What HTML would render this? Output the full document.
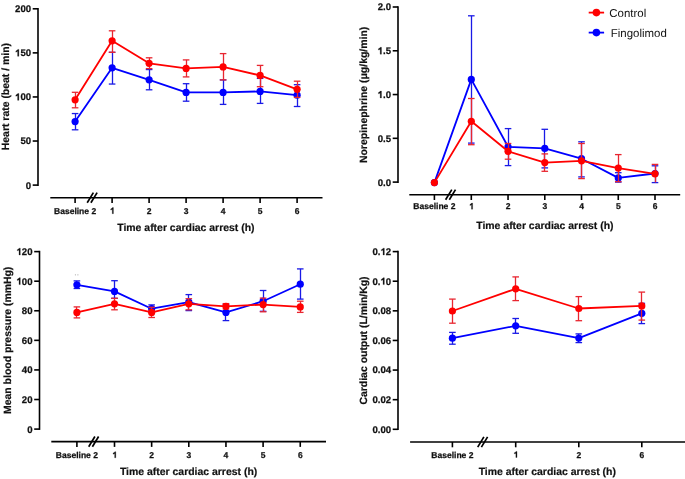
<!DOCTYPE html>
<html><head><meta charset="utf-8"><style>
html,body{margin:0;padding:0;background:#fff;}
svg{display:block;will-change:transform;}
text{font-family:"Liberation Sans", sans-serif;fill:#111;text-rendering:geometricPrecision;}
.tk{font-size:9.6px;font-weight:bold;stroke:#111;stroke-width:0.25px;}
.xt{font-size:8.5px;font-weight:bold;stroke:#111;stroke-width:0.25px;}
.ti{font-size:10.45px;font-weight:bold;stroke:#111;stroke-width:0.2px;}
.lg{font-size:11.45px;}
</style></head><body>
<svg width="685" height="479" viewBox="0 0 685 479">
<rect width="685" height="479" fill="#fff"/>
<line x1="38.0" y1="8.0" x2="38.0" y2="185.9" stroke="#000" stroke-width="1.6"/>
<line x1="32.7" y1="8.8" x2="38.0" y2="8.8" stroke="#000" stroke-width="1.6"/>
<text x="15.08" y="12.20" class="tk">200</text>
<line x1="32.7" y1="52.875" x2="38.0" y2="52.875" stroke="#000" stroke-width="1.6"/>
<path d="M 18.90 56.27 L 18.90 49.40 L 17.80 49.40 Q 17.34 50.37 15.85 50.95 L 15.85 52.15 Q 16.86 51.84 17.60 51.36 L 17.60 56.27 Z" fill="#111" stroke="#111" stroke-width="0.25"/>
<text x="20.42" y="56.27" class="tk">50</text>
<line x1="32.7" y1="96.95" x2="38.0" y2="96.95" stroke="#000" stroke-width="1.6"/>
<path d="M 18.90 100.35 L 18.90 93.48 L 17.80 93.48 Q 17.34 94.45 15.85 95.02 L 15.85 96.22 Q 16.86 95.91 17.60 95.43 L 17.60 100.35 Z" fill="#111" stroke="#111" stroke-width="0.25"/>
<text x="20.42" y="100.35" class="tk">00</text>
<line x1="32.7" y1="141.02500000000003" x2="38.0" y2="141.02500000000003" stroke="#000" stroke-width="1.6"/>
<text x="20.42" y="144.43" class="tk">50</text>
<line x1="32.7" y1="185.10000000000002" x2="38.0" y2="185.10000000000002" stroke="#000" stroke-width="1.6"/>
<text x="25.76" y="188.50" class="tk">0</text>
<line x1="50.3" y1="197.7" x2="322.5" y2="197.7" stroke="#000" stroke-width="1.6"/>
<line x1="75.1" y1="197.7" x2="75.1" y2="203.0" stroke="#000" stroke-width="1.6"/>
<text x="75.1" y="213.7" text-anchor="middle" class="xt">Baseline 2</text>
<line x1="112.1" y1="197.7" x2="112.1" y2="203.0" stroke="#000" stroke-width="1.6"/>
<path d="M 113.42 213.70 L 113.42 207.61 L 112.44 207.61 Q 112.03 208.47 110.72 208.98 L 110.72 210.04 Q 111.61 209.77 112.26 209.35 L 112.26 213.70 Z" fill="#111" stroke="#111" stroke-width="0.25"/>
<line x1="149.1" y1="197.7" x2="149.1" y2="203.0" stroke="#000" stroke-width="1.6"/>
<text x="149.1" y="213.7" text-anchor="middle" class="xt">2</text>
<line x1="186.1" y1="197.7" x2="186.1" y2="203.0" stroke="#000" stroke-width="1.6"/>
<text x="186.1" y="213.7" text-anchor="middle" class="xt">3</text>
<line x1="223.1" y1="197.7" x2="223.1" y2="203.0" stroke="#000" stroke-width="1.6"/>
<text x="223.1" y="213.7" text-anchor="middle" class="xt">4</text>
<line x1="260.1" y1="197.7" x2="260.1" y2="203.0" stroke="#000" stroke-width="1.6"/>
<text x="260.1" y="213.7" text-anchor="middle" class="xt">5</text>
<line x1="297.1" y1="197.7" x2="297.1" y2="203.0" stroke="#000" stroke-width="1.6"/>
<text x="297.1" y="213.7" text-anchor="middle" class="xt">6</text>
<line x1="87.2" y1="202.79999999999998" x2="93.39999999999999" y2="192.6" stroke="#000" stroke-width="1.7"/>
<line x1="90.9" y1="202.79999999999998" x2="97.1" y2="192.6" stroke="#000" stroke-width="1.7"/>
<text x="185.9" y="231.0" text-anchor="middle" class="ti">Time after cardiac arrest (h)</text>
<text transform="translate(9.4,96.6) rotate(-90)" text-anchor="middle" class="ti">Heart rate (beat / min)</text>
<line x1="75.5" y1="113.55" x2="75.5" y2="129.8" stroke="#1a1ae6" stroke-width="1.3"/>
<line x1="71.8" y1="113.55" x2="78.39999999999999" y2="113.55" stroke="#1a1ae6" stroke-width="1.3"/>
<line x1="71.8" y1="129.8" x2="78.39999999999999" y2="129.8" stroke="#1a1ae6" stroke-width="1.3"/>
<line x1="112.5" y1="52.3" x2="112.5" y2="84.05" stroke="#1a1ae6" stroke-width="1.3"/>
<line x1="108.8" y1="52.3" x2="115.39999999999999" y2="52.3" stroke="#1a1ae6" stroke-width="1.3"/>
<line x1="108.8" y1="84.05" x2="115.39999999999999" y2="84.05" stroke="#1a1ae6" stroke-width="1.3"/>
<line x1="149.5" y1="69.55" x2="149.5" y2="89.8" stroke="#1a1ae6" stroke-width="1.3"/>
<line x1="145.79999999999998" y1="69.55" x2="152.4" y2="69.55" stroke="#1a1ae6" stroke-width="1.3"/>
<line x1="145.79999999999998" y1="89.8" x2="152.4" y2="89.8" stroke="#1a1ae6" stroke-width="1.3"/>
<line x1="186.5" y1="83.7" x2="186.5" y2="101.2" stroke="#1a1ae6" stroke-width="1.3"/>
<line x1="182.79999999999998" y1="83.7" x2="189.4" y2="83.7" stroke="#1a1ae6" stroke-width="1.3"/>
<line x1="182.79999999999998" y1="101.2" x2="189.4" y2="101.2" stroke="#1a1ae6" stroke-width="1.3"/>
<line x1="223.5" y1="79.89999999999999" x2="223.5" y2="104.39999999999999" stroke="#1a1ae6" stroke-width="1.3"/>
<line x1="219.79999999999998" y1="79.89999999999999" x2="226.4" y2="79.89999999999999" stroke="#1a1ae6" stroke-width="1.3"/>
<line x1="219.79999999999998" y1="104.39999999999999" x2="226.4" y2="104.39999999999999" stroke="#1a1ae6" stroke-width="1.3"/>
<line x1="260.5" y1="78.39999999999999" x2="260.5" y2="103.39999999999999" stroke="#1a1ae6" stroke-width="1.3"/>
<line x1="256.8" y1="78.39999999999999" x2="263.40000000000003" y2="78.39999999999999" stroke="#1a1ae6" stroke-width="1.3"/>
<line x1="256.8" y1="103.39999999999999" x2="263.40000000000003" y2="103.39999999999999" stroke="#1a1ae6" stroke-width="1.3"/>
<line x1="297.5" y1="84.7" x2="297.5" y2="106.5" stroke="#1a1ae6" stroke-width="1.3"/>
<line x1="293.8" y1="84.7" x2="300.40000000000003" y2="84.7" stroke="#1a1ae6" stroke-width="1.3"/>
<line x1="293.8" y1="106.5" x2="300.40000000000003" y2="106.5" stroke="#1a1ae6" stroke-width="1.3"/>
<polyline points="75.1,121.55 112.1,67.8 149.1,79.8 186.1,92.39999999999999 223.1,92.39999999999999 260.1,91.39999999999999 297.1,95.2" fill="none" stroke="#0000ff" stroke-width="1.8" stroke-linejoin="round"/>
<circle cx="75.1" cy="121.55" r="3.6" fill="#0000ff"/>
<circle cx="112.1" cy="67.8" r="3.6" fill="#0000ff"/>
<circle cx="149.1" cy="79.8" r="3.6" fill="#0000ff"/>
<circle cx="186.1" cy="92.39999999999999" r="3.6" fill="#0000ff"/>
<circle cx="223.1" cy="92.39999999999999" r="3.6" fill="#0000ff"/>
<circle cx="260.1" cy="91.39999999999999" r="3.6" fill="#0000ff"/>
<circle cx="297.1" cy="95.2" r="3.6" fill="#0000ff"/>
<line x1="75.5" y1="92.3" x2="75.5" y2="107.8" stroke="#e82630" stroke-width="1.3"/>
<line x1="71.8" y1="92.3" x2="78.39999999999999" y2="92.3" stroke="#e82630" stroke-width="1.3"/>
<line x1="71.8" y1="107.8" x2="78.39999999999999" y2="107.8" stroke="#e82630" stroke-width="1.3"/>
<line x1="112.5" y1="30.8" x2="112.5" y2="52.3" stroke="#e82630" stroke-width="1.3"/>
<line x1="108.8" y1="30.8" x2="115.39999999999999" y2="30.8" stroke="#e82630" stroke-width="1.3"/>
<line x1="108.8" y1="52.3" x2="115.39999999999999" y2="52.3" stroke="#e82630" stroke-width="1.3"/>
<line x1="149.5" y1="57.8" x2="149.5" y2="68.6" stroke="#e82630" stroke-width="1.3"/>
<line x1="145.79999999999998" y1="57.8" x2="152.4" y2="57.8" stroke="#e82630" stroke-width="1.3"/>
<line x1="145.79999999999998" y1="68.6" x2="152.4" y2="68.6" stroke="#e82630" stroke-width="1.3"/>
<line x1="186.5" y1="59.9" x2="186.5" y2="76.89999999999999" stroke="#e82630" stroke-width="1.3"/>
<line x1="182.79999999999998" y1="59.9" x2="189.4" y2="59.9" stroke="#e82630" stroke-width="1.3"/>
<line x1="182.79999999999998" y1="76.89999999999999" x2="189.4" y2="76.89999999999999" stroke="#e82630" stroke-width="1.3"/>
<line x1="223.5" y1="53.599999999999994" x2="223.5" y2="79.89999999999999" stroke="#e82630" stroke-width="1.3"/>
<line x1="219.79999999999998" y1="53.599999999999994" x2="226.4" y2="53.599999999999994" stroke="#e82630" stroke-width="1.3"/>
<line x1="219.79999999999998" y1="79.89999999999999" x2="226.4" y2="79.89999999999999" stroke="#e82630" stroke-width="1.3"/>
<line x1="260.5" y1="65.39999999999999" x2="260.5" y2="86.7" stroke="#e82630" stroke-width="1.3"/>
<line x1="256.8" y1="65.39999999999999" x2="263.40000000000003" y2="65.39999999999999" stroke="#e82630" stroke-width="1.3"/>
<line x1="256.8" y1="86.7" x2="263.40000000000003" y2="86.7" stroke="#e82630" stroke-width="1.3"/>
<line x1="297.5" y1="81.2" x2="297.5" y2="97.39999999999999" stroke="#e82630" stroke-width="1.3"/>
<line x1="293.8" y1="81.2" x2="300.40000000000003" y2="81.2" stroke="#e82630" stroke-width="1.3"/>
<line x1="293.8" y1="97.39999999999999" x2="300.40000000000003" y2="97.39999999999999" stroke="#e82630" stroke-width="1.3"/>
<polyline points="75.1,99.8 112.1,40.8 149.1,63.3 186.1,68.39999999999999 223.1,66.89999999999999 260.1,75.39999999999999 297.1,89.3" fill="none" stroke="#ff0000" stroke-width="1.8" stroke-linejoin="round"/>
<circle cx="75.1" cy="99.8" r="3.6" fill="#ff0000"/>
<circle cx="112.1" cy="40.8" r="3.6" fill="#ff0000"/>
<circle cx="149.1" cy="63.3" r="3.6" fill="#ff0000"/>
<circle cx="186.1" cy="68.39999999999999" r="3.6" fill="#ff0000"/>
<circle cx="223.1" cy="66.89999999999999" r="3.6" fill="#ff0000"/>
<circle cx="260.1" cy="75.39999999999999" r="3.6" fill="#ff0000"/>
<circle cx="297.1" cy="89.3" r="3.6" fill="#ff0000"/>
<line x1="398.0" y1="6.2" x2="398.0" y2="182.9" stroke="#000" stroke-width="1.6"/>
<line x1="392.7" y1="7.0" x2="398.0" y2="7.0" stroke="#000" stroke-width="1.6"/>
<text x="377.65" y="10.40" class="tk">2.0</text>
<line x1="392.7" y1="50.775" x2="398.0" y2="50.775" stroke="#000" stroke-width="1.6"/>
<path d="M 381.47 54.17 L 381.47 47.30 L 380.37 47.30 Q 379.91 48.27 378.42 48.85 L 378.42 50.05 Q 379.43 49.74 380.17 49.26 L 380.17 54.17 Z" fill="#111" stroke="#111" stroke-width="0.25"/>
<text x="382.99" y="54.17" class="tk">.5</text>
<line x1="392.7" y1="94.55" x2="398.0" y2="94.55" stroke="#000" stroke-width="1.6"/>
<path d="M 381.47 97.95 L 381.47 91.08 L 380.37 91.08 Q 379.91 92.05 378.42 92.62 L 378.42 93.82 Q 379.43 93.51 380.17 93.03 L 380.17 97.95 Z" fill="#111" stroke="#111" stroke-width="0.25"/>
<text x="382.99" y="97.95" class="tk">.0</text>
<line x1="392.7" y1="138.325" x2="398.0" y2="138.325" stroke="#000" stroke-width="1.6"/>
<text x="377.65" y="141.72" class="tk">0.5</text>
<line x1="392.7" y1="182.1" x2="398.0" y2="182.1" stroke="#000" stroke-width="1.6"/>
<text x="377.65" y="185.50" class="tk">0.0</text>
<line x1="409.3" y1="194.7" x2="680.2" y2="194.7" stroke="#000" stroke-width="1.6"/>
<line x1="434.4" y1="194.7" x2="434.4" y2="200.0" stroke="#000" stroke-width="1.6"/>
<text x="434.4" y="209.2" text-anchor="middle" class="xt">Baseline 2</text>
<line x1="471.3" y1="194.7" x2="471.3" y2="200.0" stroke="#000" stroke-width="1.6"/>
<path d="M 472.62 209.20 L 472.62 203.11 L 471.64 203.11 Q 471.23 203.97 469.92 204.48 L 469.92 205.54 Q 470.81 205.27 471.46 204.85 L 471.46 209.20 Z" fill="#111" stroke="#111" stroke-width="0.25"/>
<line x1="508.04" y1="194.7" x2="508.04" y2="200.0" stroke="#000" stroke-width="1.6"/>
<text x="508.04" y="209.2" text-anchor="middle" class="xt">2</text>
<line x1="544.78" y1="194.7" x2="544.78" y2="200.0" stroke="#000" stroke-width="1.6"/>
<text x="544.78" y="209.2" text-anchor="middle" class="xt">3</text>
<line x1="581.52" y1="194.7" x2="581.52" y2="200.0" stroke="#000" stroke-width="1.6"/>
<text x="581.52" y="209.2" text-anchor="middle" class="xt">4</text>
<line x1="618.26" y1="194.7" x2="618.26" y2="200.0" stroke="#000" stroke-width="1.6"/>
<text x="618.26" y="209.2" text-anchor="middle" class="xt">5</text>
<line x1="655.0" y1="194.7" x2="655.0" y2="200.0" stroke="#000" stroke-width="1.6"/>
<text x="655.0" y="209.2" text-anchor="middle" class="xt">6</text>
<line x1="445.59999999999997" y1="199.79999999999998" x2="451.8" y2="189.6" stroke="#000" stroke-width="1.7"/>
<line x1="449.29999999999995" y1="199.79999999999998" x2="455.5" y2="189.6" stroke="#000" stroke-width="1.7"/>
<text x="544.9" y="228.6" text-anchor="middle" class="ti">Time after cardiac arrest (h)</text>
<text transform="translate(366.9,94.9) rotate(-90)" text-anchor="middle" class="ti">Norepinephrine (μg/kg/min)</text>
<line x1="471.5" y1="15.8" x2="471.5" y2="143.10000000000002" stroke="#1a1ae6" stroke-width="1.3"/>
<line x1="468.0" y1="15.8" x2="474.6" y2="15.8" stroke="#1a1ae6" stroke-width="1.3"/>
<line x1="468.0" y1="143.10000000000002" x2="474.6" y2="143.10000000000002" stroke="#1a1ae6" stroke-width="1.3"/>
<line x1="508.5" y1="128.60000000000002" x2="508.5" y2="165.60000000000002" stroke="#1a1ae6" stroke-width="1.3"/>
<line x1="504.74" y1="128.60000000000002" x2="511.34000000000003" y2="128.60000000000002" stroke="#1a1ae6" stroke-width="1.3"/>
<line x1="504.74" y1="165.60000000000002" x2="511.34000000000003" y2="165.60000000000002" stroke="#1a1ae6" stroke-width="1.3"/>
<line x1="544.5" y1="129.3" x2="544.5" y2="167.9" stroke="#1a1ae6" stroke-width="1.3"/>
<line x1="541.48" y1="129.3" x2="548.0799999999999" y2="129.3" stroke="#1a1ae6" stroke-width="1.3"/>
<line x1="541.48" y1="167.9" x2="548.0799999999999" y2="167.9" stroke="#1a1ae6" stroke-width="1.3"/>
<line x1="581.5" y1="141.8" x2="581.5" y2="176.9" stroke="#1a1ae6" stroke-width="1.3"/>
<line x1="578.22" y1="141.8" x2="584.8199999999999" y2="141.8" stroke="#1a1ae6" stroke-width="1.3"/>
<line x1="578.22" y1="176.9" x2="584.8199999999999" y2="176.9" stroke="#1a1ae6" stroke-width="1.3"/>
<line x1="618.5" y1="172.70000000000002" x2="618.5" y2="182.10000000000002" stroke="#1a1ae6" stroke-width="1.3"/>
<line x1="614.96" y1="172.70000000000002" x2="621.56" y2="172.70000000000002" stroke="#1a1ae6" stroke-width="1.3"/>
<line x1="614.96" y1="182.10000000000002" x2="621.56" y2="182.10000000000002" stroke="#1a1ae6" stroke-width="1.3"/>
<line x1="655.5" y1="165.8" x2="655.5" y2="182.60000000000002" stroke="#1a1ae6" stroke-width="1.3"/>
<line x1="651.7" y1="165.8" x2="658.3" y2="165.8" stroke="#1a1ae6" stroke-width="1.3"/>
<line x1="651.7" y1="182.60000000000002" x2="658.3" y2="182.60000000000002" stroke="#1a1ae6" stroke-width="1.3"/>
<polyline points="434.4,182.60000000000002 471.3,79.39999999999999 508.04,146.8 544.78,148.4 581.52,158.70000000000002 618.26,177.9 655.0,173.5" fill="none" stroke="#0000ff" stroke-width="1.8" stroke-linejoin="round"/>
<circle cx="434.4" cy="182.60000000000002" r="3.6" fill="#0000ff"/>
<circle cx="471.3" cy="79.39999999999999" r="3.6" fill="#0000ff"/>
<circle cx="508.04" cy="146.8" r="3.6" fill="#0000ff"/>
<circle cx="544.78" cy="148.4" r="3.6" fill="#0000ff"/>
<circle cx="581.52" cy="158.70000000000002" r="3.6" fill="#0000ff"/>
<circle cx="618.26" cy="177.9" r="3.6" fill="#0000ff"/>
<circle cx="655.0" cy="173.5" r="3.6" fill="#0000ff"/>
<line x1="471.5" y1="98.5" x2="471.5" y2="144.70000000000002" stroke="#e82630" stroke-width="1.3"/>
<line x1="468.0" y1="98.5" x2="474.6" y2="98.5" stroke="#e82630" stroke-width="1.3"/>
<line x1="468.0" y1="144.70000000000002" x2="474.6" y2="144.70000000000002" stroke="#e82630" stroke-width="1.3"/>
<line x1="508.5" y1="143.5" x2="508.5" y2="159.20000000000002" stroke="#e82630" stroke-width="1.3"/>
<line x1="504.74" y1="143.5" x2="511.34000000000003" y2="143.5" stroke="#e82630" stroke-width="1.3"/>
<line x1="504.74" y1="159.20000000000002" x2="511.34000000000003" y2="159.20000000000002" stroke="#e82630" stroke-width="1.3"/>
<line x1="544.5" y1="153.9" x2="544.5" y2="171.3" stroke="#e82630" stroke-width="1.3"/>
<line x1="541.48" y1="153.9" x2="548.0799999999999" y2="153.9" stroke="#e82630" stroke-width="1.3"/>
<line x1="541.48" y1="171.3" x2="548.0799999999999" y2="171.3" stroke="#e82630" stroke-width="1.3"/>
<line x1="581.5" y1="143.5" x2="581.5" y2="178.60000000000002" stroke="#e82630" stroke-width="1.3"/>
<line x1="578.22" y1="143.5" x2="584.8199999999999" y2="143.5" stroke="#e82630" stroke-width="1.3"/>
<line x1="578.22" y1="178.60000000000002" x2="584.8199999999999" y2="178.60000000000002" stroke="#e82630" stroke-width="1.3"/>
<line x1="618.5" y1="154.60000000000002" x2="618.5" y2="181.70000000000002" stroke="#e82630" stroke-width="1.3"/>
<line x1="614.96" y1="154.60000000000002" x2="621.56" y2="154.60000000000002" stroke="#e82630" stroke-width="1.3"/>
<line x1="614.96" y1="181.70000000000002" x2="621.56" y2="181.70000000000002" stroke="#e82630" stroke-width="1.3"/>
<line x1="655.5" y1="164.4" x2="655.5" y2="182.4" stroke="#e82630" stroke-width="1.3"/>
<line x1="651.7" y1="164.4" x2="658.3" y2="164.4" stroke="#e82630" stroke-width="1.3"/>
<polyline points="434.4,182.60000000000002 471.3,121.3 508.04,151.3 544.78,162.60000000000002 581.52,160.8 618.26,168.10000000000002 655.0,173.8" fill="none" stroke="#ff0000" stroke-width="1.8" stroke-linejoin="round"/>
<circle cx="434.4" cy="182.60000000000002" r="3.6" fill="#ff0000"/>
<circle cx="471.3" cy="121.3" r="3.6" fill="#ff0000"/>
<circle cx="508.04" cy="151.3" r="3.6" fill="#ff0000"/>
<circle cx="544.78" cy="162.60000000000002" r="3.6" fill="#ff0000"/>
<circle cx="581.52" cy="160.8" r="3.6" fill="#ff0000"/>
<circle cx="618.26" cy="168.10000000000002" r="3.6" fill="#ff0000"/>
<circle cx="655.0" cy="173.8" r="3.6" fill="#ff0000"/>
<line x1="588.7" y1="12.6" x2="604.1" y2="12.6" stroke="#ff0000" stroke-width="1.8"/>
<circle cx="596.4" cy="12.6" r="3.8" fill="#ff0000"/>
<text x="609.3" y="16.8" class="lg">Control</text>
<line x1="588.7" y1="32.6" x2="604.1" y2="32.6" stroke="#0000ff" stroke-width="1.8"/>
<circle cx="596.4" cy="32.6" r="3.8" fill="#0000ff"/>
<text x="610.8" y="36.8" class="lg">Fingolimod</text>
<line x1="39.5" y1="250.79999999999998" x2="39.5" y2="429.90000000000003" stroke="#000" stroke-width="1.6"/>
<line x1="34.2" y1="251.6" x2="39.5" y2="251.6" stroke="#000" stroke-width="1.6"/>
<path d="M 20.30 255.00 L 20.30 248.13 L 19.20 248.13 Q 18.74 249.10 17.25 249.67 L 17.25 250.87 Q 18.26 250.56 19.00 250.08 L 19.00 255.00 Z" fill="#111" stroke="#111" stroke-width="0.25"/>
<text x="21.82" y="255.00" class="tk">20</text>
<line x1="34.2" y1="281.183" x2="39.5" y2="281.183" stroke="#000" stroke-width="1.6"/>
<path d="M 20.30 284.58 L 20.30 277.71 L 19.20 277.71 Q 18.74 278.68 17.25 279.25 L 17.25 280.45 Q 18.26 280.15 19.00 279.67 L 19.00 284.58 Z" fill="#111" stroke="#111" stroke-width="0.25"/>
<text x="21.82" y="284.58" class="tk">00</text>
<line x1="34.2" y1="310.76599999999996" x2="39.5" y2="310.76599999999996" stroke="#000" stroke-width="1.6"/>
<text x="21.82" y="314.17" class="tk">80</text>
<line x1="34.2" y1="340.349" x2="39.5" y2="340.349" stroke="#000" stroke-width="1.6"/>
<text x="21.82" y="343.75" class="tk">60</text>
<line x1="34.2" y1="369.932" x2="39.5" y2="369.932" stroke="#000" stroke-width="1.6"/>
<text x="21.82" y="373.33" class="tk">40</text>
<line x1="34.2" y1="399.515" x2="39.5" y2="399.515" stroke="#000" stroke-width="1.6"/>
<text x="21.82" y="402.91" class="tk">20</text>
<line x1="34.2" y1="429.09799999999996" x2="39.5" y2="429.09799999999996" stroke="#000" stroke-width="1.6"/>
<text x="27.16" y="432.50" class="tk">0</text>
<line x1="51.3" y1="441.6" x2="326.0" y2="441.6" stroke="#000" stroke-width="1.6"/>
<line x1="76.9" y1="441.6" x2="76.9" y2="446.90000000000003" stroke="#000" stroke-width="1.6"/>
<text x="76.9" y="457.8" text-anchor="middle" class="xt">Baseline 2</text>
<line x1="114.5" y1="441.6" x2="114.5" y2="446.90000000000003" stroke="#000" stroke-width="1.6"/>
<path d="M 115.82 457.80 L 115.82 451.71 L 114.84 451.71 Q 114.43 452.57 113.12 453.08 L 113.12 454.15 Q 114.01 453.87 114.66 453.45 L 114.66 457.80 Z" fill="#111" stroke="#111" stroke-width="0.25"/>
<line x1="151.65" y1="441.6" x2="151.65" y2="446.90000000000003" stroke="#000" stroke-width="1.6"/>
<text x="151.65" y="457.8" text-anchor="middle" class="xt">2</text>
<line x1="188.8" y1="441.6" x2="188.8" y2="446.90000000000003" stroke="#000" stroke-width="1.6"/>
<text x="188.8" y="457.8" text-anchor="middle" class="xt">3</text>
<line x1="225.95" y1="441.6" x2="225.95" y2="446.90000000000003" stroke="#000" stroke-width="1.6"/>
<text x="225.95" y="457.8" text-anchor="middle" class="xt">4</text>
<line x1="263.1" y1="441.6" x2="263.1" y2="446.90000000000003" stroke="#000" stroke-width="1.6"/>
<text x="263.1" y="457.8" text-anchor="middle" class="xt">5</text>
<line x1="300.25" y1="441.6" x2="300.25" y2="446.90000000000003" stroke="#000" stroke-width="1.6"/>
<text x="300.25" y="457.8" text-anchor="middle" class="xt">6</text>
<line x1="88.7" y1="446.70000000000005" x2="94.89999999999999" y2="436.5" stroke="#000" stroke-width="1.7"/>
<line x1="92.4" y1="446.70000000000005" x2="98.6" y2="436.5" stroke="#000" stroke-width="1.7"/>
<text x="188.6" y="474.6" text-anchor="middle" class="ti">Time after cardiac arrest (h)</text>
<text transform="translate(10.9,340.3) rotate(-90)" text-anchor="middle" class="ti">Mean blood pressure (mmHg)</text>
<line x1="76.5" y1="280.90000000000003" x2="76.5" y2="288.5" stroke="#1a1ae6" stroke-width="1.3"/>
<line x1="73.60000000000001" y1="280.90000000000003" x2="80.2" y2="280.90000000000003" stroke="#1a1ae6" stroke-width="1.3"/>
<line x1="73.60000000000001" y1="288.5" x2="80.2" y2="288.5" stroke="#1a1ae6" stroke-width="1.3"/>
<line x1="114.5" y1="280.7" x2="114.5" y2="298.3" stroke="#1a1ae6" stroke-width="1.3"/>
<line x1="111.2" y1="280.7" x2="117.8" y2="280.7" stroke="#1a1ae6" stroke-width="1.3"/>
<line x1="111.2" y1="298.3" x2="117.8" y2="298.3" stroke="#1a1ae6" stroke-width="1.3"/>
<line x1="151.5" y1="304.90000000000003" x2="151.5" y2="312.3" stroke="#1a1ae6" stroke-width="1.3"/>
<line x1="148.35" y1="304.90000000000003" x2="154.95000000000002" y2="304.90000000000003" stroke="#1a1ae6" stroke-width="1.3"/>
<line x1="148.35" y1="312.3" x2="154.95000000000002" y2="312.3" stroke="#1a1ae6" stroke-width="1.3"/>
<line x1="188.5" y1="294.6" x2="188.5" y2="310.6" stroke="#1a1ae6" stroke-width="1.3"/>
<line x1="185.5" y1="294.6" x2="192.10000000000002" y2="294.6" stroke="#1a1ae6" stroke-width="1.3"/>
<line x1="185.5" y1="310.6" x2="192.10000000000002" y2="310.6" stroke="#1a1ae6" stroke-width="1.3"/>
<line x1="225.5" y1="304.3" x2="225.5" y2="320.6" stroke="#1a1ae6" stroke-width="1.3"/>
<line x1="222.64999999999998" y1="304.3" x2="229.25" y2="304.3" stroke="#1a1ae6" stroke-width="1.3"/>
<line x1="222.64999999999998" y1="320.6" x2="229.25" y2="320.6" stroke="#1a1ae6" stroke-width="1.3"/>
<line x1="263.5" y1="290.5" x2="263.5" y2="311.3" stroke="#1a1ae6" stroke-width="1.3"/>
<line x1="259.8" y1="290.5" x2="266.40000000000003" y2="290.5" stroke="#1a1ae6" stroke-width="1.3"/>
<line x1="259.8" y1="311.3" x2="266.40000000000003" y2="311.3" stroke="#1a1ae6" stroke-width="1.3"/>
<line x1="300.5" y1="268.90000000000003" x2="300.5" y2="299.1" stroke="#1a1ae6" stroke-width="1.3"/>
<line x1="296.95" y1="268.90000000000003" x2="303.55" y2="268.90000000000003" stroke="#1a1ae6" stroke-width="1.3"/>
<line x1="296.95" y1="299.1" x2="303.55" y2="299.1" stroke="#1a1ae6" stroke-width="1.3"/>
<polyline points="76.9,284.8 114.5,291.40000000000003 151.65,308.7 188.8,302.2 225.95,312.40000000000003 263.1,301.2 300.25,284.2" fill="none" stroke="#0000ff" stroke-width="1.8" stroke-linejoin="round"/>
<circle cx="76.9" cy="284.8" r="3.6" fill="#0000ff"/>
<circle cx="114.5" cy="291.40000000000003" r="3.6" fill="#0000ff"/>
<circle cx="151.65" cy="308.7" r="3.6" fill="#0000ff"/>
<circle cx="188.8" cy="302.2" r="3.6" fill="#0000ff"/>
<circle cx="225.95" cy="312.40000000000003" r="3.6" fill="#0000ff"/>
<circle cx="263.1" cy="301.2" r="3.6" fill="#0000ff"/>
<circle cx="300.25" cy="284.2" r="3.6" fill="#0000ff"/>
<line x1="76.5" y1="306.90000000000003" x2="76.5" y2="317.90000000000003" stroke="#e82630" stroke-width="1.3"/>
<line x1="73.60000000000001" y1="306.90000000000003" x2="80.2" y2="306.90000000000003" stroke="#e82630" stroke-width="1.3"/>
<line x1="73.60000000000001" y1="317.90000000000003" x2="80.2" y2="317.90000000000003" stroke="#e82630" stroke-width="1.3"/>
<line x1="114.5" y1="298.3" x2="114.5" y2="309.8" stroke="#e82630" stroke-width="1.3"/>
<line x1="111.2" y1="298.3" x2="117.8" y2="298.3" stroke="#e82630" stroke-width="1.3"/>
<line x1="111.2" y1="309.8" x2="117.8" y2="309.8" stroke="#e82630" stroke-width="1.3"/>
<line x1="151.5" y1="307.3" x2="151.5" y2="317.5" stroke="#e82630" stroke-width="1.3"/>
<line x1="148.35" y1="307.3" x2="154.95000000000002" y2="307.3" stroke="#e82630" stroke-width="1.3"/>
<line x1="148.35" y1="317.5" x2="154.95000000000002" y2="317.5" stroke="#e82630" stroke-width="1.3"/>
<line x1="188.5" y1="298.7" x2="188.5" y2="309.8" stroke="#e82630" stroke-width="1.3"/>
<line x1="185.5" y1="298.7" x2="192.10000000000002" y2="298.7" stroke="#e82630" stroke-width="1.3"/>
<line x1="185.5" y1="309.8" x2="192.10000000000002" y2="309.8" stroke="#e82630" stroke-width="1.3"/>
<line x1="225.5" y1="303.6" x2="225.5" y2="308.90000000000003" stroke="#e82630" stroke-width="1.3"/>
<line x1="222.64999999999998" y1="303.6" x2="229.25" y2="303.6" stroke="#e82630" stroke-width="1.3"/>
<line x1="222.64999999999998" y1="308.90000000000003" x2="229.25" y2="308.90000000000003" stroke="#e82630" stroke-width="1.3"/>
<line x1="263.5" y1="298.1" x2="263.5" y2="311.8" stroke="#e82630" stroke-width="1.3"/>
<line x1="259.8" y1="298.1" x2="266.40000000000003" y2="298.1" stroke="#e82630" stroke-width="1.3"/>
<line x1="259.8" y1="311.8" x2="266.40000000000003" y2="311.8" stroke="#e82630" stroke-width="1.3"/>
<line x1="300.5" y1="301.2" x2="300.5" y2="312.40000000000003" stroke="#e82630" stroke-width="1.3"/>
<line x1="296.95" y1="301.2" x2="303.55" y2="301.2" stroke="#e82630" stroke-width="1.3"/>
<line x1="296.95" y1="312.40000000000003" x2="303.55" y2="312.40000000000003" stroke="#e82630" stroke-width="1.3"/>
<polyline points="76.9,312.40000000000003 114.5,303.8 151.65,312.40000000000003 188.8,303.8 225.95,306.3 263.1,304.6 300.25,306.90000000000003" fill="none" stroke="#ff0000" stroke-width="1.8" stroke-linejoin="round"/>
<circle cx="76.9" cy="312.40000000000003" r="3.6" fill="#ff0000"/>
<circle cx="114.5" cy="303.8" r="3.6" fill="#ff0000"/>
<circle cx="151.65" cy="312.40000000000003" r="3.6" fill="#ff0000"/>
<circle cx="188.8" cy="303.8" r="3.6" fill="#ff0000"/>
<circle cx="225.95" cy="306.3" r="3.6" fill="#ff0000"/>
<circle cx="263.1" cy="304.6" r="3.6" fill="#ff0000"/>
<circle cx="300.25" cy="306.90000000000003" r="3.6" fill="#ff0000"/>
<circle cx="75.4" cy="274.8" r="0.6" fill="#aaa"/><circle cx="77.9" cy="274.8" r="0.6" fill="#aaa"/>
<line x1="398.0" y1="250.79999999999998" x2="398.0" y2="430.1" stroke="#000" stroke-width="1.6"/>
<line x1="392.7" y1="251.6" x2="398.0" y2="251.6" stroke="#000" stroke-width="1.6"/>
<text x="372.51" y="255.00" class="tk">0.</text>
<path d="M 384.34 255.00 L 384.34 248.13 L 383.24 248.13 Q 382.78 249.10 381.29 249.67 L 381.29 250.87 Q 382.30 250.56 383.04 250.08 L 383.04 255.00 Z" fill="#111" stroke="#111" stroke-width="0.25"/>
<text x="385.86" y="255.00" class="tk">2</text>
<line x1="392.7" y1="281.217" x2="398.0" y2="281.217" stroke="#000" stroke-width="1.6"/>
<text x="372.51" y="284.62" class="tk">0.</text>
<path d="M 384.34 284.62 L 384.34 277.74 L 383.24 277.74 Q 382.78 278.71 381.29 279.29 L 381.29 280.49 Q 382.30 280.18 383.04 279.70 L 383.04 284.62 Z" fill="#111" stroke="#111" stroke-width="0.25"/>
<text x="385.86" y="284.62" class="tk">0</text>
<line x1="392.7" y1="310.834" x2="398.0" y2="310.834" stroke="#000" stroke-width="1.6"/>
<text x="372.51" y="314.23" class="tk">0.08</text>
<line x1="392.7" y1="340.451" x2="398.0" y2="340.451" stroke="#000" stroke-width="1.6"/>
<text x="372.51" y="343.85" class="tk">0.06</text>
<line x1="392.7" y1="370.068" x2="398.0" y2="370.068" stroke="#000" stroke-width="1.6"/>
<text x="372.51" y="373.47" class="tk">0.04</text>
<line x1="392.7" y1="399.685" x2="398.0" y2="399.685" stroke="#000" stroke-width="1.6"/>
<text x="372.51" y="403.08" class="tk">0.02</text>
<line x1="392.7" y1="429.302" x2="398.0" y2="429.302" stroke="#000" stroke-width="1.6"/>
<text x="372.51" y="432.70" class="tk">0.00</text>
<line x1="410.1" y1="442.0" x2="686" y2="442.0" stroke="#000" stroke-width="1.6"/>
<line x1="452.4" y1="442.0" x2="452.4" y2="447.3" stroke="#000" stroke-width="1.6"/>
<text x="452.4" y="457.5" text-anchor="middle" class="xt">Baseline 2</text>
<line x1="515.7" y1="442.0" x2="515.7" y2="447.3" stroke="#000" stroke-width="1.6"/>
<path d="M 517.02 457.50 L 517.02 451.41 L 516.04 451.41 Q 515.63 452.27 514.32 452.78 L 514.32 453.85 Q 515.21 453.57 515.86 453.15 L 515.86 457.50 Z" fill="#111" stroke="#111" stroke-width="0.25"/>
<line x1="578.8" y1="442.0" x2="578.8" y2="447.3" stroke="#000" stroke-width="1.6"/>
<text x="578.8" y="457.5" text-anchor="middle" class="xt">2</text>
<line x1="641.8" y1="442.0" x2="641.8" y2="447.3" stroke="#000" stroke-width="1.6"/>
<text x="641.8" y="457.5" text-anchor="middle" class="xt">6</text>
<line x1="477.7" y1="447.1" x2="483.90000000000003" y2="436.9" stroke="#000" stroke-width="1.7"/>
<line x1="481.4" y1="447.1" x2="487.6" y2="436.9" stroke="#000" stroke-width="1.7"/>
<text x="547.3" y="474.6" text-anchor="middle" class="ti">Time after cardiac arrest (h)</text>
<text transform="translate(367.0,340.5) rotate(-90)" text-anchor="middle" class="ti">Cardiac output (L/min/Kg)</text>
<line x1="452.5" y1="332.40000000000003" x2="452.5" y2="344.2" stroke="#1a1ae6" stroke-width="1.3"/>
<line x1="449.09999999999997" y1="332.40000000000003" x2="455.7" y2="332.40000000000003" stroke="#1a1ae6" stroke-width="1.3"/>
<line x1="449.09999999999997" y1="344.2" x2="455.7" y2="344.2" stroke="#1a1ae6" stroke-width="1.3"/>
<line x1="515.5" y1="318.5" x2="515.5" y2="333.3" stroke="#1a1ae6" stroke-width="1.3"/>
<line x1="512.4000000000001" y1="318.5" x2="519.0" y2="318.5" stroke="#1a1ae6" stroke-width="1.3"/>
<line x1="512.4000000000001" y1="333.3" x2="519.0" y2="333.3" stroke="#1a1ae6" stroke-width="1.3"/>
<line x1="578.5" y1="333.90000000000003" x2="578.5" y2="342.6" stroke="#1a1ae6" stroke-width="1.3"/>
<line x1="575.5" y1="333.90000000000003" x2="582.0999999999999" y2="333.90000000000003" stroke="#1a1ae6" stroke-width="1.3"/>
<line x1="575.5" y1="342.6" x2="582.0999999999999" y2="342.6" stroke="#1a1ae6" stroke-width="1.3"/>
<line x1="641.5" y1="303.3" x2="641.5" y2="323.6" stroke="#1a1ae6" stroke-width="1.3"/>
<line x1="638.5" y1="303.3" x2="645.0999999999999" y2="303.3" stroke="#1a1ae6" stroke-width="1.3"/>
<line x1="638.5" y1="323.6" x2="645.0999999999999" y2="323.6" stroke="#1a1ae6" stroke-width="1.3"/>
<polyline points="452.4,338.2 515.7,325.8 578.8,338.1 641.8,313.3" fill="none" stroke="#0000ff" stroke-width="1.8" stroke-linejoin="round"/>
<circle cx="452.4" cy="338.2" r="3.6" fill="#0000ff"/>
<circle cx="515.7" cy="325.8" r="3.6" fill="#0000ff"/>
<circle cx="578.8" cy="338.1" r="3.6" fill="#0000ff"/>
<circle cx="641.8" cy="313.3" r="3.6" fill="#0000ff"/>
<line x1="452.5" y1="299.1" x2="452.5" y2="323.2" stroke="#e82630" stroke-width="1.3"/>
<line x1="449.09999999999997" y1="299.1" x2="455.7" y2="299.1" stroke="#e82630" stroke-width="1.3"/>
<line x1="449.09999999999997" y1="323.2" x2="455.7" y2="323.2" stroke="#e82630" stroke-width="1.3"/>
<line x1="515.5" y1="276.90000000000003" x2="515.5" y2="300.6" stroke="#e82630" stroke-width="1.3"/>
<line x1="512.4000000000001" y1="276.90000000000003" x2="519.0" y2="276.90000000000003" stroke="#e82630" stroke-width="1.3"/>
<line x1="512.4000000000001" y1="300.6" x2="519.0" y2="300.6" stroke="#e82630" stroke-width="1.3"/>
<line x1="578.5" y1="296.6" x2="578.5" y2="320.7" stroke="#e82630" stroke-width="1.3"/>
<line x1="575.5" y1="296.6" x2="582.0999999999999" y2="296.6" stroke="#e82630" stroke-width="1.3"/>
<line x1="575.5" y1="320.7" x2="582.0999999999999" y2="320.7" stroke="#e82630" stroke-width="1.3"/>
<line x1="641.5" y1="292.1" x2="641.5" y2="320.1" stroke="#e82630" stroke-width="1.3"/>
<line x1="638.5" y1="292.1" x2="645.0999999999999" y2="292.1" stroke="#e82630" stroke-width="1.3"/>
<line x1="638.5" y1="320.1" x2="645.0999999999999" y2="320.1" stroke="#e82630" stroke-width="1.3"/>
<polyline points="452.4,311.0 515.7,288.8 578.8,308.5 641.8,305.90000000000003" fill="none" stroke="#ff0000" stroke-width="1.8" stroke-linejoin="round"/>
<circle cx="452.4" cy="311.0" r="3.6" fill="#ff0000"/>
<circle cx="515.7" cy="288.8" r="3.6" fill="#ff0000"/>
<circle cx="578.8" cy="308.5" r="3.6" fill="#ff0000"/>
<circle cx="641.8" cy="305.90000000000003" r="3.6" fill="#ff0000"/>
</svg>
</body></html>
